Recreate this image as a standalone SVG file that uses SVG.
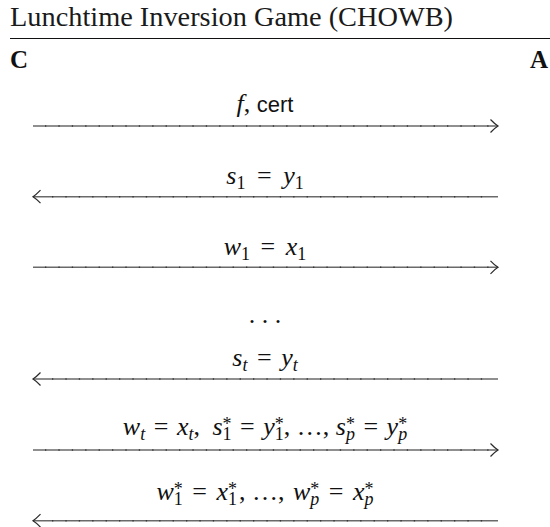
<svg xmlns="http://www.w3.org/2000/svg" width="550" height="527" viewBox="0 0 550 527">
<style>
.t{font-family:"Liberation Serif",serif;fill:#1a1a1a}
.b{font-family:"Liberation Serif",serif;font-weight:bold;font-size:25px;fill:#111}
.m{font-family:"Liberation Serif",serif;font-size:26px;fill:#111;text-anchor:middle}
.i{font-style:italic}
.sub{font-size:18px;font-style:normal}
.si{font-size:18px;font-style:italic}
.sf{font-family:"Liberation Sans",sans-serif;font-size:22px}
.ln{stroke:#6a6a6a;stroke-width:1.6;fill:none}
.tk{stroke:#383838;stroke-width:1.6;stroke-dasharray:1.3 12.1;fill:none}
</style>
<defs>
<marker id="ah" markerUnits="userSpaceOnUse" viewBox="-10 -8 12 16" refX="0" refY="0" markerWidth="12" markerHeight="16" orient="auto" overflow="visible">
<path d="M-7.5,-6.5 Q-3,-1.8 0,0 Q-3,1.8 -7.5,6.5" stroke="#2a2a2a" stroke-width="1.2" fill="none"/>
</marker>
</defs>
<rect width="550" height="527" fill="#fff"/>
<g id="title">
<text class="t" x="10" y="26" font-size="28" textLength="443" lengthAdjust="spacingAndGlyphs">Lunchtime Inversion Game (CHOWB)</text>
<line x1="10" y1="38.5" x2="550" y2="38.5" stroke="#111" stroke-width="1.2"/>
</g>
<g id="node-C"><text class="b" x="10" y="68">C</text></g>
<g id="node-A"><text class="b" x="530" y="68">A</text></g>
<g id="connectors">
<g id="m1">
<line class="ln" x1="33" y1="126" x2="498" y2="126" marker-end="url(#ah)"/>
<line class="tk" x1="45" y1="126" x2="490" y2="126"/>
<text class="m" x="265" y="112"><tspan class="i">f</tspan><tspan>, </tspan><tspan class="sf">cert</tspan></text>
</g>
<g id="m2">
<line class="ln" x1="498" y1="196.7" x2="33" y2="196.7" marker-end="url(#ah)"/>
<line class="tk" x1="52" y1="196.7" x2="490" y2="196.7"/>
<text class="m" x="265" y="184"><tspan class="i">s</tspan><tspan class="sub" dy="5">1</tspan><tspan dy="-5" dx="5"> = </tspan><tspan class="i" dx="5">y</tspan><tspan class="sub" dy="5">1</tspan></text>
</g>
<g id="m3">
<line class="ln" x1="33" y1="267.3" x2="498" y2="267.3" marker-end="url(#ah)"/>
<line class="tk" x1="45" y1="267.3" x2="490" y2="267.3"/>
<text class="m" x="265" y="255"><tspan class="i">w</tspan><tspan class="sub" dy="5">1</tspan><tspan dy="-5" dx="4"> = </tspan><tspan class="i" dx="4">x</tspan><tspan class="sub" dy="5">1</tspan></text>
</g>
<text class="m" x="265" y="323" font-size="22">. . .</text>
<g id="m4">
<line class="ln" x1="498" y1="379" x2="33" y2="379" marker-end="url(#ah)"/>
<line class="tk" x1="52" y1="379" x2="490" y2="379"/>
<text class="m" x="265" y="366"><tspan class="i">s</tspan><tspan class="si" dy="5">t</tspan><tspan dy="-5" dx="3"> = </tspan><tspan class="i" dx="3">y</tspan><tspan class="si" dy="5">t</tspan></text>
</g>
<g id="m5">
<line class="ln" x1="33" y1="450" x2="498" y2="450" marker-end="url(#ah)"/>
<line class="tk" x1="45" y1="450" x2="490" y2="450"/>
<text class="m" x="265" y="435"><tspan class="i">w</tspan><tspan class="si" dy="5">t</tspan><tspan dy="-5" dx="2"> = </tspan><tspan class="i" dx="2">x</tspan><tspan class="si" dy="5">t</tspan><tspan dy="-5">, </tspan><tspan class="i" dx="6">s</tspan><tspan class="sub" dy="-5">*</tspan><tspan class="sub" dx="-9" dy="10">1</tspan><tspan dy="-5" dx="2"> = </tspan><tspan class="i" dx="2">y</tspan><tspan class="sub" dy="-5">*</tspan><tspan class="sub" dx="-9" dy="10">1</tspan><tspan dy="-5">, …, </tspan><tspan class="i">s</tspan><tspan class="sub" dy="-5">*</tspan><tspan class="si" dx="-9" dy="10">p</tspan><tspan dy="-5" dx="2"> = </tspan><tspan class="i" dx="2">y</tspan><tspan class="sub" dy="-5">*</tspan><tspan class="si" dx="-9" dy="10">p</tspan></text>
</g>
<g id="m6">
<line class="ln" x1="498" y1="520.7" x2="33" y2="520.7" marker-end="url(#ah)"/>
<line class="tk" x1="52" y1="520.7" x2="490" y2="520.7"/>
<text class="m" x="265" y="500"><tspan class="i">w</tspan><tspan class="sub" dy="-5">*</tspan><tspan class="sub" dx="-9" dy="10">1</tspan><tspan dy="-5" dx="3"> = </tspan><tspan class="i" dx="3">x</tspan><tspan class="sub" dy="-5">*</tspan><tspan class="sub" dx="-9" dy="10">1</tspan><tspan dy="-5" dx="2">, …, </tspan><tspan class="i" dx="2">w</tspan><tspan class="sub" dy="-5">*</tspan><tspan class="si" dx="-9" dy="10">p</tspan><tspan dy="-5" dx="3"> = </tspan><tspan class="i" dx="3">x</tspan><tspan class="sub" dy="-5">*</tspan><tspan class="si" dx="-9" dy="10">p</tspan></text>
</g>
</g>
</svg>
